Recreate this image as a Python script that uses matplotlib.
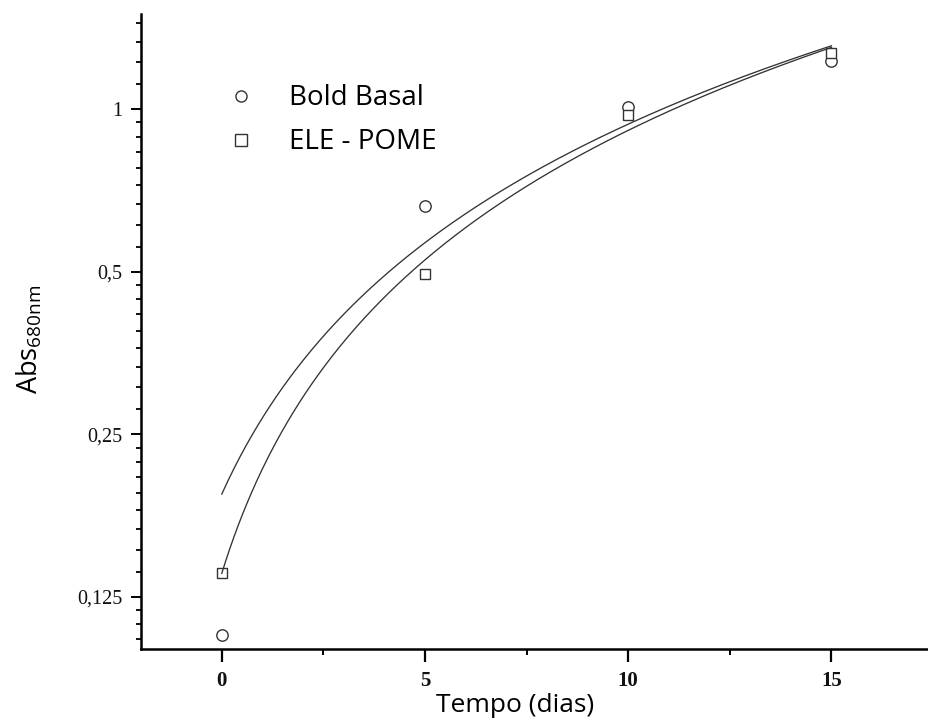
import numpy as np
import matplotlib
matplotlib.use("Agg")
import matplotlib.pyplot as plt
from matplotlib.lines import Line2D
from matplotlib.ticker import FixedLocator, FixedFormatter, NullFormatter

# ---- data ----
days = [0, 5, 10, 15]
bold_basal = [0.106, 0.661, 1.01, 1.23]
ele_pome = [0.138, 0.495, 0.975, 1.27]

series_labels = ["Bold Basal", "ELE - POME"]
y_ticks = [0.125, 0.25, 0.5, 1.0]
y_tick_labels = ["0,125", "0,25", "0,5", "1"]
x_ticks = [0, 5, 10, 15]
x_minor_ticks = [2.5, 7.5, 12.5]
x_label = "Tempo (dias)"
y_label = r"Abs$_{\mathregular{680nm}}$"

# ---- figure ----
fig = plt.figure(figsize=(9.29, 7.22), dpi=100)
ax = fig.add_axes([140.5 / 929, (722 - 649) / 722, (929 - 140.5) / 929, (649 - 14) / 722])

ax.set_yscale("log", base=2)
ax.set_xlim(-2, 17.4)
ax.set_ylim(0.1, 1.5)

# linear fits (straight-line regression drawn on the log axis, as in the original)
xfit = np.linspace(0, 15, 300)
for vals in (bold_basal, ele_pome):
    slope, icpt = np.polyfit(days, vals, 1)
    ax.plot(xfit, icpt + slope * xfit, color="#333333", lw=0.95, zorder=4)

ax.plot(days, bold_basal, linestyle="none", marker="o", markersize=8.2,
        markerfacecolor="white", markeredgecolor="#333333", markeredgewidth=1.0, zorder=2)
ax.plot(days, ele_pome, linestyle="none", marker="s", markersize=7.8,
        markerfacecolor="white", markeredgecolor="#333333", markeredgewidth=1.0, zorder=3)

# legend
handles = [
    Line2D([], [], linestyle="none", marker="o", markersize=8, markerfacecolor="white",
           markeredgecolor="#333333", markeredgewidth=1.0),
    Line2D([], [], linestyle="none", marker="s", markersize=8, markerfacecolor="white",
           markeredgecolor="#333333", markeredgewidth=1.0),
]
ax.legend(handles, series_labels, loc="upper left", bbox_to_anchor=(0.1097, 0.889),
          frameon=False, handlelength=1.0, handletextpad=1.25, labelspacing=0.57,
          borderaxespad=0, borderpad=0, prop={"family": "Open Sans", "size": 20})

# spines
for s in ("top", "right"):
    ax.spines[s].set_visible(False)
for s in ("left", "bottom"):
    ax.spines[s].set_linewidth(1.8)
    ax.spines[s].set_color("black")

# y ticks
ax.yaxis.set_major_locator(FixedLocator(y_ticks))
ax.yaxis.set_major_formatter(FixedFormatter(y_tick_labels))
minor_vals = []
for base in (0.0625, 0.125, 0.25, 0.5, 1.0):
    for k in range(1, 9):
        v = base * (1 + k / 9)
        if 0.1 <= v <= 1.5:
            minor_vals.append(v)
ax.yaxis.set_minor_locator(FixedLocator(minor_vals))
ax.yaxis.set_minor_formatter(NullFormatter())

# x ticks
ax.xaxis.set_major_locator(FixedLocator(x_ticks))
ax.xaxis.set_minor_locator(FixedLocator(x_minor_ticks))

ax.tick_params(axis="y", which="major", direction="out", length=7, width=1.4, pad=6,
               labelsize=14.5, labelcolor="#111111")
ax.tick_params(axis="y", which="minor", direction="out", length=3.8, width=1.3)
ax.tick_params(axis="x", which="major", direction="out", length=9, width=1.6, pad=7,
               labelsize=15, labelcolor="#111111")
ax.tick_params(axis="x", which="minor", direction="out", length=4.5, width=1.4)
for lab in ax.get_yticklabels():
    lab.set_fontfamily("Liberation Serif")
for lab in ax.get_xticklabels():
    lab.set_fontfamily("Liberation Serif")
    lab.set_fontweight("bold")

ax.set_xlabel(x_label, fontfamily="Open Sans", fontsize=19)
ax.xaxis.set_label_coords(0.475, -0.07)
ax.set_ylabel(y_label, fontfamily="Open Sans", fontsize=19.5)
ax.yaxis.set_label_coords(-0.122, 0.487)

fig.savefig("out.png", dpi=100)
